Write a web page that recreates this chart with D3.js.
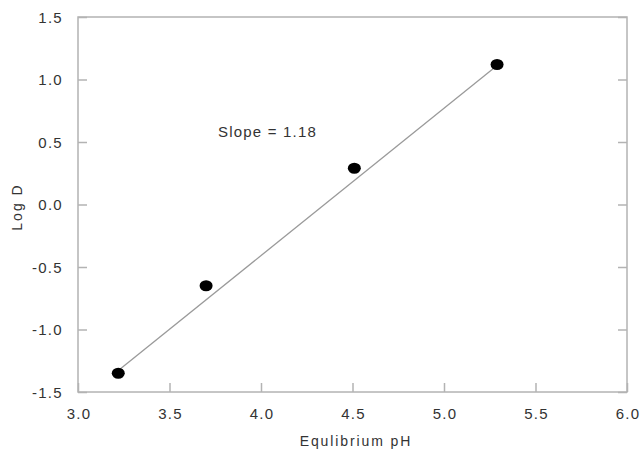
<!DOCTYPE html>
<html>
<head>
<meta charset="utf-8">
<script src="https://cdn.jsdelivr.net/npm/d3@7"></script>
<style>
  body { margin: 0; background: #fff; }
  text { font-family: "Liberation Sans", Arial, sans-serif; fill: #333; }
</style>
</head>
<body>
<div id="chart"></div>
<script>
// data
var phValues = [3.22, 3.70, 4.51, 5.29];
var logDValues = [-1.35, -0.65, 0.29, 1.12];
var fitX = [3.21, 5.28];
var fitY = [-1.34, 1.10];
var xTicks = [3.0, 3.5, 4.0, 4.5, 5.0, 5.5, 6.0];
var yTicks = [-1.5, -1.0, -0.5, 0.0, 0.5, 1.0, 1.5];
var slopeLabel = "Slope = 1.18";

var width = 640, height = 449;
var margin = {top: 17, right: 13, bottom: 57, left: 78};

var svg = d3.select("#chart")
  .append("svg")
    .attr("width", width)
    .attr("height", height);

var x = d3.scaleLinear().domain([3.0, 6.0]).range([margin.left, width - margin.right]);
var y = d3.scaleLinear().domain([-1.5, 1.5]).range([height - margin.bottom, margin.top]);

var axisColor = "#b3b3b3";
var fmt = function(d) { return d.toFixed(1); };

// frame
svg.append("rect")
  .attr("x", x(3.0))
  .attr("y", y(1.5))
  .attr("width", x(6.0) - x(3.0))
  .attr("height", y(-1.5) - y(1.5))
  .attr("fill", "none")
  .attr("stroke", axisColor)
  .attr("stroke-width", 1.5);

// bottom axis, ticks inside
var xAxis = svg.append("g")
  .attr("transform", "translate(0," + y(-1.5) + ")")
  .call(d3.axisBottom(x).tickValues(xTicks).tickSize(-9).tickPadding(16).tickFormat(fmt));

// left axis, ticks inside
var yAxis = svg.append("g")
  .attr("transform", "translate(" + x(3.0) + ",0)")
  .call(d3.axisLeft(y).tickValues(yTicks).tickSize(-9).tickPadding(15).tickFormat(fmt));

// right side ticks
var yRight = svg.append("g")
  .attr("transform", "translate(" + x(6.0) + ",0)")
  .call(d3.axisRight(y).tickValues(yTicks).tickSize(-9).tickFormat(""));

[xAxis, yAxis, yRight].forEach(function(g) {
  g.select(".domain").remove();
  g.selectAll(".tick line").attr("stroke", axisColor).attr("stroke-width", 1.5);
  g.selectAll(".tick text")
    .style("font-family", "Liberation Sans, Arial, sans-serif")
    .style("font-size", "15px")
    .style("letter-spacing", "1.3px")
    .attr("fill", "#333");
});
yAxis.selectAll(".tick text").attr("dy", "0.35em");
xAxis.selectAll(".tick text").attr("dx", "0.6px");

// fit line
svg.append("line")
  .attr("x1", x(fitX[0])).attr("y1", y(fitY[0]))
  .attr("x2", x(fitX[1])).attr("y2", y(fitY[1]))
  .attr("stroke", "#9a9a9a")
  .attr("stroke-width", 1.3);

// points
svg.append("g")
  .selectAll("ellipse")
  .data(phValues)
  .enter()
  .append("ellipse")
    .attr("cx", function(d) { return x(d); })
    .attr("cy", function(d, i) { return y(logDValues[i]); })
    .attr("rx", 6.5)
    .attr("ry", 5.5)
    .attr("fill", "#000");

// annotation
svg.append("text")
  .attr("x", x(3.765))
  .attr("y", y(0.54))
  .style("font-size", "15px")
  .style("letter-spacing", "1.2px")
  .text(slopeLabel);

// axis titles
svg.append("text")
  .attr("x", 356)
  .attr("y", 446)
  .attr("text-anchor", "middle")
  .style("font-size", "14px")
  .style("letter-spacing", "1.9px")
  .text("Equlibrium pH");

svg.append("text")
  .attr("transform", "translate(22,207) rotate(-90)")
  .attr("text-anchor", "middle")
  .style("font-size", "14px")
  .style("letter-spacing", "2px")
  .text("Log D");
</script>
</body>
</html>
